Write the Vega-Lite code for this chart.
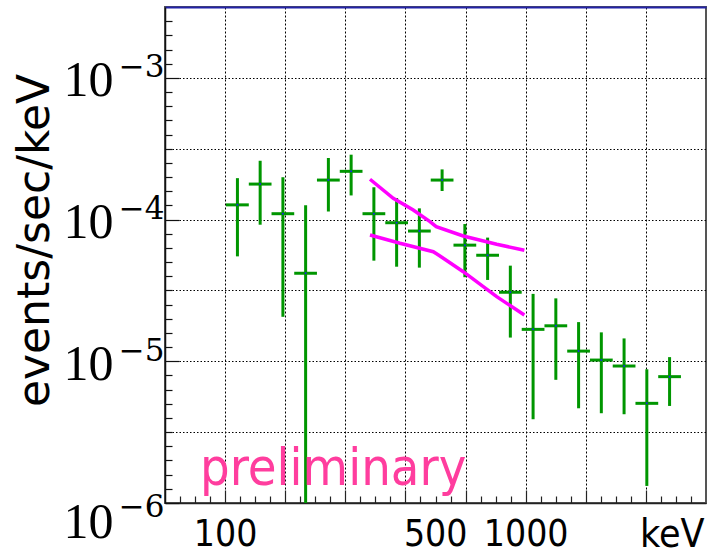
{
  "$schema": "https://vega.github.io/schema/vega-lite/v6.json",
  "width": 541,
  "height": 496,
  "autosize": {"type": "none"},
  "padding": {"left": 165, "top": 7, "right": 8, "bottom": 51},
  "background": "white",
  "config": {"view": {"stroke": "#555555", "strokeWidth": 2}},
  "datasets": {
    "points": [
      {"E": 109.9, "Elo": 100.7, "Ehi": 119.9, "F": 1.27e-4, "Flo": 5.5e-5, "Fhi": 1.96e-4},
      {"E": 130.8, "Elo": 119.9, "Ehi": 142.7, "F": 1.78e-4, "Flo": 9.2e-5, "Fhi": 2.6e-4},
      {"E": 155.7, "Elo": 142.7, "Ehi": 169.8, "F": 1.10e-4, "Flo": 2.06e-5, "Fhi": 1.99e-4},
      {"E": 185.3, "Elo": 169.8, "Ehi": 202.1, "F": 4.18e-5, "Flo": 1e-7, "Fhi": 1.26e-4},
      {"E": 220.6, "Elo": 202.1, "Ehi": 240.7, "F": 1.90e-4, "Flo": 1.14e-4, "Fhi": 2.72e-4},
      {"E": 262.6, "Elo": 240.7, "Ehi": 286.5, "F": 2.19e-4, "Flo": 1.48e-4, "Fhi": 2.87e-4},
      {"E": 312.6, "Elo": 286.5, "Ehi": 341.1, "F": 1.10e-4, "Flo": 5.13e-5, "Fhi": 1.69e-4},
      {"E": 372.1, "Elo": 341.1, "Ehi": 405.9, "F": 9.5e-5, "Flo": 4.65e-5, "Fhi": 1.42e-4},
      {"E": 442.9, "Elo": 405.9, "Ehi": 483.2, "F": 8.3e-5, "Flo": 4.58e-5, "Fhi": 1.20e-4},
      {"E": 527.2, "Elo": 483.2, "Ehi": 575.2, "F": 1.90e-4, "Flo": 1.59e-4, "Fhi": 2.26e-4},
      {"E": 627.6, "Elo": 575.2, "Ehi": 684.7, "F": 6.6e-5, "Flo": 3.92e-5, "Fhi": 9.3e-5},
      {"E": 747.1, "Elo": 684.7, "Ehi": 815.1, "F": 5.6e-5, "Flo": 3.75e-5, "Fhi": 7.46e-5},
      {"E": 889.2, "Elo": 815.1, "Ehi": 970.1, "F": 3.07e-5, "Flo": 1.47e-5, "Fhi": 4.73e-5},
      {"E": 1058.5, "Elo": 970.1, "Ehi": 1154.8, "F": 1.68e-5, "Flo": 3.9e-6, "Fhi": 2.99e-5},
      {"E": 1260.0, "Elo": 1154.8, "Ehi": 1374.6, "F": 1.78e-5, "Flo": 7.4e-6, "Fhi": 2.78e-5},
      {"E": 1499.9, "Elo": 1374.6, "Ehi": 1636.4, "F": 1.18e-5, "Flo": 4.66e-6, "Fhi": 1.89e-5},
      {"E": 1785.4, "Elo": 1636.4, "Ehi": 1948.2, "F": 1.02e-5, "Flo": 4.3e-6, "Fhi": 1.6e-5},
      {"E": 2125.3, "Elo": 1948.2, "Ehi": 2319.0, "F": 9.26e-6, "Flo": 4.23e-6, "Fhi": 1.45e-5},
      {"E": 2529.9, "Elo": 2319.0, "Ehi": 2760.6, "F": 5.05e-6, "Flo": 1.32e-6, "Fhi": 8.78e-6},
      {"E": 3011.6, "Elo": 2760.6, "Ehi": 3285.9, "F": 7.79e-6, "Flo": 4.84e-6, "Fhi": 1.07e-5}
    ],
    "fit": [
      {"band": "upper", "i": 1, "E": 303.4, "F": 1.925e-4},
      {"band": "upper", "i": 2, "E": 362.6, "F": 1.414e-4},
      {"band": "upper", "i": 3, "E": 422.7, "F": 1.169e-4},
      {"band": "upper", "i": 4, "E": 480.4, "F": 9.665e-5},
      {"band": "upper", "i": 5, "E": 504.0, "F": 8.91e-5},
      {"band": "upper", "i": 6, "E": 619.9, "F": 7.661e-5},
      {"band": "upper", "i": 7, "E": 800.8, "F": 6.693e-5},
      {"band": "upper", "i": 8, "E": 990.0, "F": 6.08e-5},
      {"band": "lower", "i": 1, "E": 303.4, "F": 7.785e-5},
      {"band": "lower", "i": 2, "E": 381.7, "F": 6.802e-5},
      {"band": "lower", "i": 3, "E": 492.7, "F": 5.935e-5},
      {"band": "lower", "i": 4, "E": 518.6, "F": 5.535e-5},
      {"band": "lower", "i": 5, "E": 619.9, "F": 4.287e-5},
      {"band": "lower", "i": 6, "E": 800.8, "F": 2.857e-5},
      {"band": "lower", "i": 7, "E": 990.0, "F": 2.121e-5}
    ],
    "note": [
      {"label": "preliminary", "E": 82.5, "F": 1.34e-6}
    ]
  },
  "resolve": {"axis": {"x": "independent", "y": "independent"}},
  "layer": [
    {
      "data": {"name": "points"},
      "mark": {"type": "rule", "color": "#009600", "strokeWidth": 3, "clip": true},
      "encoding": {
        "x": {
          "field": "E", "type": "quantitative",
          "scale": {"type": "log", "domain": [63.0957, 3981.07], "nice": false},
          "axis": {
            "orient": "bottom",
            "values": [70.795, 79.433, 89.125, 100, 112.20, 125.89, 141.25, 158.49, 177.83, 199.53, 223.87, 251.19, 281.84, 316.23, 354.81, 398.11, 446.68, 501.19, 562.34, 630.96, 707.95, 794.33, 891.25, 1000, 1122.0, 1258.9, 1412.5, 1584.9, 1778.3, 1995.3, 2238.7, 2511.9, 2818.4, 3162.3, 3548.1],
            "labels": false,
            "title": null,
            "tickSize": {"condition": {"test": "abs(5*log(datum.value)/LN10 - round(5*log(datum.value)/LN10)) < 0.01", "value": -13}, "value": -7},
            "tickColor": "#222222",
            "tickWidth": 1.2,
            "grid": true,
            "gridColor": "#000000",
            "gridDash": [2, 2],
            "gridWidth": 1,
            "gridOpacity": {"condition": {"test": "abs(5*log(datum.value)/LN10 - round(5*log(datum.value)/LN10)) < 0.01", "value": 1}, "value": 0},
            "domainColor": "#222222",
            "domainWidth": 1.5
          }
        },
        "y": {
          "field": "Flo", "type": "quantitative",
          "scale": {"type": "log", "domain": [1e-6, 0.00316228], "nice": false},
          "axis": {
            "orient": "left",
            "values": [1e-6, 1.2589e-6, 1.5849e-6, 1.9953e-6, 2.5119e-6, 3.1623e-6, 3.9811e-6, 5.0119e-6, 6.3096e-6, 7.9433e-6, 1e-5, 1.2589e-5, 1.5849e-5, 1.9953e-5, 2.5119e-5, 3.1623e-5, 3.9811e-5, 5.0119e-5, 6.3096e-5, 7.9433e-5, 1e-4, 1.2589e-4, 1.5849e-4, 1.9953e-4, 2.5119e-4, 3.1623e-4, 3.9811e-4, 5.0119e-4, 6.3096e-4, 7.9433e-4, 1e-3, 1.2589e-3, 1.5849e-3, 1.9953e-3, 2.5119e-3],
            "labels": false,
            "title": null,
            "tickSize": {"condition": {"test": "abs(log(datum.value)/LN10 - round(log(datum.value)/LN10)) < 0.01", "value": -14}, "value": -7},
            "tickColor": "#111111",
            "tickWidth": 1.2,
            "grid": true,
            "gridColor": "#000000",
            "gridDash": [1.5, 2],
            "gridWidth": 1,
            "gridOpacity": {"condition": {"test": "abs(2*log(datum.value)/LN10 - round(2*log(datum.value)/LN10)) < 0.01", "value": 1}, "value": 0},
            "domainColor": "#111111",
            "domainWidth": 1.5
          }
        },
        "y2": {"field": "Fhi"}
      }
    },
    {
      "data": {"name": "points"},
      "mark": {"type": "rule", "color": "#009600", "strokeWidth": 3, "clip": true},
      "encoding": {
        "x": {
          "field": "Elo", "type": "quantitative",
          "axis": {
            "orient": "bottom",
            "values": [100, 500, 1000],
            "format": "d",
            "ticks": false,
            "tickSize": 0,
            "domain": false,
            "grid": false,
            "labelFont": "DejaVu Sans Condensed, DejaVu Sans",
            "labelFontSize": 37,
            "labelColor": "#000000",
            "labelPadding": 13,
            "labelBaseline": "top",
            "labelFlush": false,
            "labelOverlap": false,
            "title": "keV",
            "titleFont": "DejaVu Sans Condensed, DejaVu Sans",
            "titleFontSize": 39,
            "titleFontWeight": "normal",
            "titleColor": "#000000",
            "titleX": 539,
            "titleY": 43,
            "titleAlign": "right",
            "titleBaseline": "alphabetic"
          }
        },
        "x2": {"field": "Ehi"},
        "y": {
          "field": "F", "type": "quantitative",
          "axis": {
            "orient": "left",
            "values": [1e-6, 1e-5, 1e-4, 1e-3],
            "labelExpr": "'10'",
            "ticks": false,
            "tickSize": 0,
            "domain": false,
            "grid": false,
            "labelFont": "Liberation Serif",
            "labelFontSize": 50,
            "labelColor": "#000000",
            "labelPadding": 52,
            "labelAlign": "right",
            "labelBaseline": "middle",
            "labelOffset": {"condition": {"test": "datum.value < 2e-6", "value": 19}, "value": 3},
            "labelFlush": false,
            "labelOverlap": false,
            "labelBound": false,
            "title": "events/sec/keV",
            "titleFont": "DejaVu Sans",
            "titleFontSize": 44,
            "titleFontWeight": "normal",
            "titleColor": "#000000",
            "titleX": -130,
            "titleY": 233,
            "titleAngle": -90,
            "titleAlign": "center",
            "titleBaseline": "middle"
          }
        }
      }
    },
    {
      "data": {"name": "fit"},
      "mark": {"type": "line", "color": "#ff00ff", "strokeWidth": 3.5, "clip": true},
      "encoding": {
        "x": {
          "field": "E", "type": "quantitative",
          "axis": {
            "orient": "top",
            "labels": false,
            "ticks": false,
            "grid": false,
            "title": null,
            "domainColor": "#2323a8",
            "domainWidth": 2
          }
        },
        "y": {
          "field": "F", "type": "quantitative",
          "axis": {
            "orient": "left",
            "values": [1e-6, 1e-5, 1e-4, 1e-3],
            "labelExpr": "'\u2212' + format(-round(log(datum.value)/LN10), 'd')",
            "ticks": false,
            "tickSize": 0,
            "domain": false,
            "grid": false,
            "labelFont": "DejaVu Serif",
            "labelFontSize": 31,
            "labelColor": "#000000",
            "labelPadding": 1,
            "labelAlign": "right",
            "labelBaseline": "middle",
            "labelOffset": {"condition": {"test": "datum.value < 2e-6", "value": 4}, "value": -10},
            "labelFlush": false,
            "labelOverlap": false,
            "labelBound": false,
            "title": null
          }
        },
        "detail": {"field": "band"},
        "order": {"field": "i"}
      }
    },
    {
      "data": {"name": "points"},
      "mark": {"type": "point", "filled": true, "size": 4, "color": "#1a1aff", "opacity": 0.9},
      "encoding": {
        "x": {"field": "E", "type": "quantitative", "axis": null},
        "y": {"field": "F", "type": "quantitative", "axis": null}
      }
    },
    {
      "data": {"name": "note"},
      "mark": {"type": "text", "font": "DejaVu Sans Condensed, DejaVu Sans", "fontSize": 52, "color": "#ff3d9e", "align": "left", "baseline": "alphabetic"},
      "encoding": {
        "x": {"field": "E", "type": "quantitative", "axis": null},
        "y": {"field": "F", "type": "quantitative", "axis": null},
        "text": {"field": "label"}
      }
    }
  ]
}
